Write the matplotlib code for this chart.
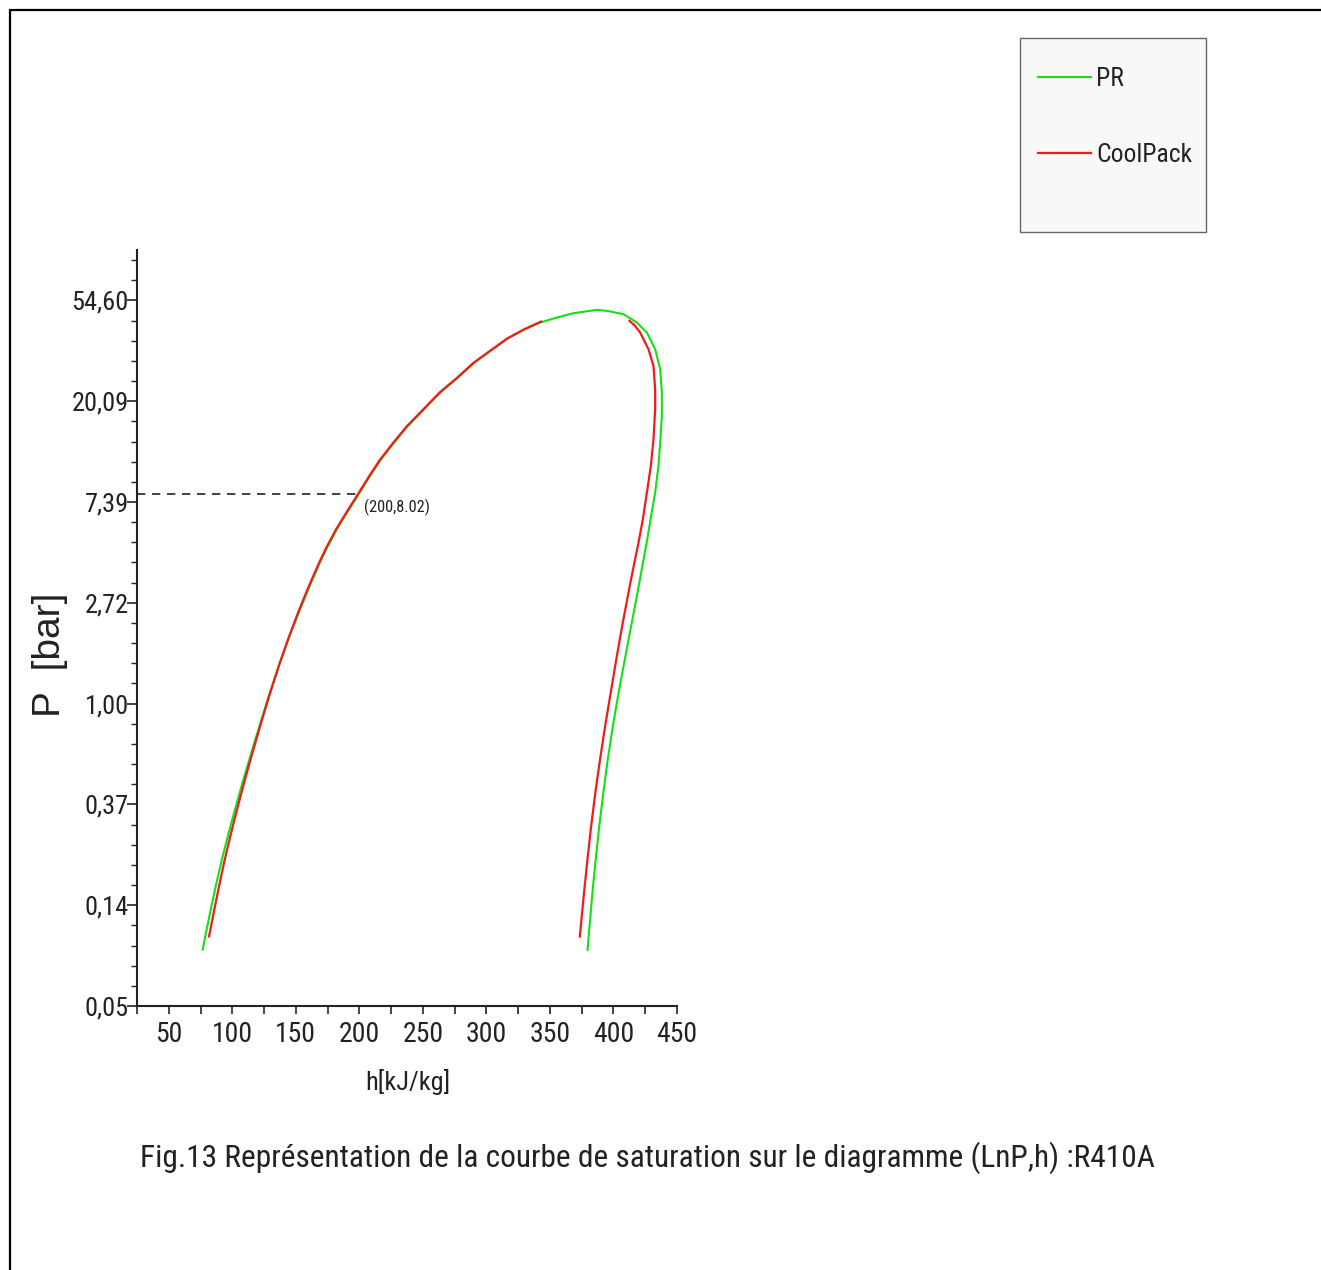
import numpy as np
import matplotlib
matplotlib.use('Agg')
import matplotlib.pyplot as plt
from matplotlib.ticker import MultipleLocator, FuncFormatter, FixedLocator
from matplotlib import font_manager
from matplotlib.patches import Rectangle

# ---------------- data ----------------
# PR (Peng-Robinson) saturation curve: enthalpy [kJ/kg] and ln(P [bar])
pr_h = [76.7, 78.7, 83.6, 87.0, 91.2, 95.2, 99.3, 103.5, 107.9, 111.9,
        117.3, 122.9, 128.6, 137.3, 145.0, 153.2, 161.0, 169.0, 174.7, 182.3,
        190.1, 199.6, 209.0, 216.9, 227.4, 237.9, 250.9, 264.0, 277.2, 290.3,
        303.4, 316.6, 329.7, 342.2, 355.4, 368.5, 386.9, 394.8, 407.9, 418.4,
        426.3, 432.8, 436.8, 438.1, 438.1, 436.8, 435.4, 432.8, 429.6, 426.6,
        423.7, 420.8, 418.9, 413.9, 408.9, 404.0, 399.5, 395.5, 392.0, 388.8,
        386.0, 383.4, 379.6]
pr_lnP = [-2.44, -2.31, -2.01, -1.81, -1.58, -1.38, -1.18, -0.99, -0.79, -0.62,
          -0.39, -0.16, 0.07, 0.40, 0.67, 0.93, 1.17, 1.40, 1.55, 1.73,
          1.89, 2.08, 2.27, 2.42, 2.59, 2.75, 2.92, 3.09, 3.23, 3.38,
          3.50, 3.62, 3.71, 3.78, 3.83, 3.873, 3.906, 3.896, 3.863, 3.780,
          3.681, 3.515, 3.317, 3.085, 2.853, 2.589, 2.357, 2.092, 1.860, 1.629,
          1.430, 1.231, 1.099, 0.768, 0.437, 0.106, -0.225, -0.556, -0.887, -1.218,
          -1.549, -1.880, -2.443]

# CoolPack: liquid branch and vapour branch
cp_liq_h = [81.7, 86.4, 89.6, 93.5, 97.2, 101.1, 105.0, 109.2, 112.9, 118.1,
            123.4, 128.9, 137.3, 144.8, 152.6, 160.4, 168.4, 174.1, 181.7, 189.5,
            199.0, 208.4, 216.3, 226.8, 237.3, 250.4, 263.5, 276.7, 289.8, 302.9,
            316.1, 329.2, 343.0]
cp_liq_lnP = [-2.31, -2.01, -1.81, -1.58, -1.38, -1.18, -0.99, -0.79, -0.62, -0.39,
              -0.16, 0.07, 0.40, 0.67, 0.93, 1.17, 1.40, 1.55, 1.73, 1.89,
              2.08, 2.27, 2.42, 2.59, 2.75, 2.92, 3.09, 3.23, 3.38, 3.50,
              3.62, 3.71, 3.79]
cp_vap_h = [412.6, 416.8, 421.0, 427.6, 431.5, 432.8, 432.8, 431.5, 429.4, 426.3,
            423.1, 419.7, 417.0, 413.8, 411.8, 406.8, 402.2, 397.8, 393.4, 389.4,
            385.7, 382.4, 379.5, 376.8, 373.5]
cp_vap_lnP = [3.797, 3.750, 3.681, 3.515, 3.350, 3.118, 2.920, 2.622, 2.357, 2.092,
              1.827, 1.596, 1.430, 1.231, 1.099, 0.768, 0.437, 0.106, -0.225, -0.556,
              -0.887, -1.218, -1.549, -1.880, -2.311]

# marked point
ref_h = 200
ref_P = 8.02

y_ticks = [-3, -2, -1, 0, 1, 2, 3, 4]
x_ticks = [50, 100, 150, 200, 250, 300, 350, 400, 450]

series_labels = ['PR', 'CoolPack']
caption = "Fig.13 Représentation de la courbe de saturation sur le diagramme (LnP,h) :R410A"

# ---------------- fonts ----------------
REG = 'Liberation Sans'
cond = None
prefs = ['Liberation Sans Narrow', 'Arial Narrow', 'Roboto Condensed',
         'Open Sans Condensed', 'Liberation Sans', 'Roboto', 'Open Sans',
         'Noto Sans', 'DejaVu Sans']
cands = [f for f in font_manager.fontManager.ttflist
         if ('condensed' in str(f.stretch) or 'Narrow' in f.name or 'Condensed' in f.name)
         and f.style == 'normal' and f.weight in (400, 'normal', 'regular', 'book')]
for p in prefs:
    for f in cands:
        if f.name == p:
            cond = f
            break
    if cond is not None:
        break
if cond is None and cands:
    cond = cands[0]
if cond is not None:
    NARROW, STRETCH = cond.name, cond.stretch
else:
    NARROW, STRETCH = REG, 'normal'

plt.rcParams['font.family'] = [NARROW, 'DejaVu Sans']
plt.rcParams['font.stretch'] = STRETCH
narrow_ok = STRETCH != 'normal' or 'Narrow' in NARROW or 'Condensed' in NARROW

W, H = 1321, 1270
fig = plt.figure(figsize=(W / 100, H / 100), dpi=100)
fig.patch.set_facecolor('white')

# figure border (top and left visible)
fig.patches.append(Rectangle((10 / W, -0.1), 1.2, 1.1 - 10 / H,
                             transform=fig.transFigure, fill=False,
                             edgecolor='black', linewidth=1.6, clip_on=False))

ax = fig.add_axes([137 / W, 1 - 1006 / H, 540 / W, 756 / H])
ax.set_facecolor('none')

GREEN = '#14e014'
RED = '#ee1c1c'
ax.plot(pr_h, pr_lnP, color=GREEN, lw=1.5, label=series_labels[0],
        solid_joinstyle='round')
ax.plot(cp_liq_h, cp_liq_lnP, color=RED, lw=1.6, label=series_labels[1],
        solid_joinstyle='round')
ax.plot(cp_vap_h, cp_vap_lnP, color=RED, lw=1.6, solid_joinstyle='round')

xmin, xmax = 25, 450
ax.set_xlim(xmin, xmax)
ax.set_ylim(-3, 4.5)

# dashed reference line
ax.plot([xmin, ref_h], [np.log(ref_P), np.log(ref_P)], color='#222222',
        lw=1.2, dashes=(5, 4))
ann = ax.annotate(f"({ref_h},{ref_P:.2f})", xy=(ref_h, np.log(ref_P)),
                  xytext=(3, -10), textcoords='offset points', ha='left',
                  va='center', fontsize=14, color='#222222')

for s in ['top', 'right']:
    ax.spines[s].set_visible(False)
for s in ['left', 'bottom']:
    ax.spines[s].set_linewidth(1.5)
    ax.spines[s].set_color('#222222')

ax.yaxis.set_major_locator(FixedLocator(y_ticks))
ax.yaxis.set_minor_locator(MultipleLocator(0.2))
ax.yaxis.set_major_formatter(FuncFormatter(lambda v, p: f"{np.exp(v):.2f}".replace('.', ',')))
ax.xaxis.set_major_locator(FixedLocator(x_ticks))
ax.xaxis.set_minor_locator(MultipleLocator(25))

ax.tick_params(axis='y', which='major', direction='out', length=7, width=1.2,
               pad=-1, labelsize=19, colors='#222222')
ax.tick_params(axis='y', which='minor', direction='out', length=4, width=1.0,
               colors='#222222')
ax.tick_params(axis='x', which='both', direction='out', length=6, width=1.2,
               pad=5, labelsize=20, colors='#222222')

ax.set_xlabel('h[kJ/kg]', fontsize=19, color='#222222', va='center')
ax.xaxis.set_label_coords((408 - 137) / 540, (1006 - 1082) / 756)
ax.set_ylabel('P  [bar]', fontsize=28, color='#222222', va='center',
              family=[REG, 'DejaVu Sans'], fontstretch='normal')
ax.yaxis.set_label_coords((50 - 137) / 540, (1006 - 655) / 756)

# legend: frame drawn separately, entries inside
fig.patches.append(Rectangle((1020 / W, 1 - 232 / H), 186 / W, 194 / H,
                             transform=fig.transFigure, facecolor='#f8f8f8',
                             edgecolor='#666666', linewidth=1.0, zorder=0))
leg_fs = 20
spacing = 1.55
anchor_top = 60


def make_legend(top, sp, fs):
    lg = fig.legend(loc='upper left', bbox_to_anchor=(1038 / W, 1 - top / H),
                    frameon=False, fontsize=fs, handlelength=2.05,
                    handletextpad=0.22, labelspacing=sp, borderpad=0,
                    borderaxespad=0)
    for t in lg.get_texts():
        t.set_color('#222222')
    return lg


leg = make_legend(anchor_top, spacing, leg_fs)

cap = fig.text(140 / W, 1 - 1158 / H, caption, ha='left', va='center',
               fontsize=30, color='#222222')

# ---- fit text widths to the reference layout ----
fig.canvas.draw()
r = fig.canvas.get_renderer()
bb = cap.get_window_extent(r)
cap.set_fontsize(30 * (1013 / bb.width) if narrow_ok else 30 * min(1.0, 1013 / bb.width))
bb = ann.get_window_extent(r)
ann.set_fontsize(14 * min(1.0, 67 / bb.width))
cw = leg.get_texts()[1].get_window_extent(r).width
if cw > 96:
    leg_fs = leg_fs * 96 / cw
    leg.remove()
    leg = make_legend(anchor_top, spacing, leg_fs)

# place legend rows so the visible text centres sit at y = 77 and 153 px
target0, target1 = 79, 155
for _ in range(3):
    fig.canvas.draw()
    ts = leg.get_texts()
    e0 = ts[0].get_window_extent(r)
    e1 = ts[1].get_window_extent(r)
    c0 = H - (e0.y0 + e0.y1) / 2
    c1 = H - (e1.y0 + e1.y1) / 2
    fs_px = leg_fs * 100 / 72
    spacing += ((target1 - target0) - (c1 - c0)) / fs_px
    anchor_top += (target0 - c0)
    leg.remove()
    leg = make_legend(anchor_top, spacing, leg_fs)

fig.savefig('out.png', dpi=100, facecolor='white')
